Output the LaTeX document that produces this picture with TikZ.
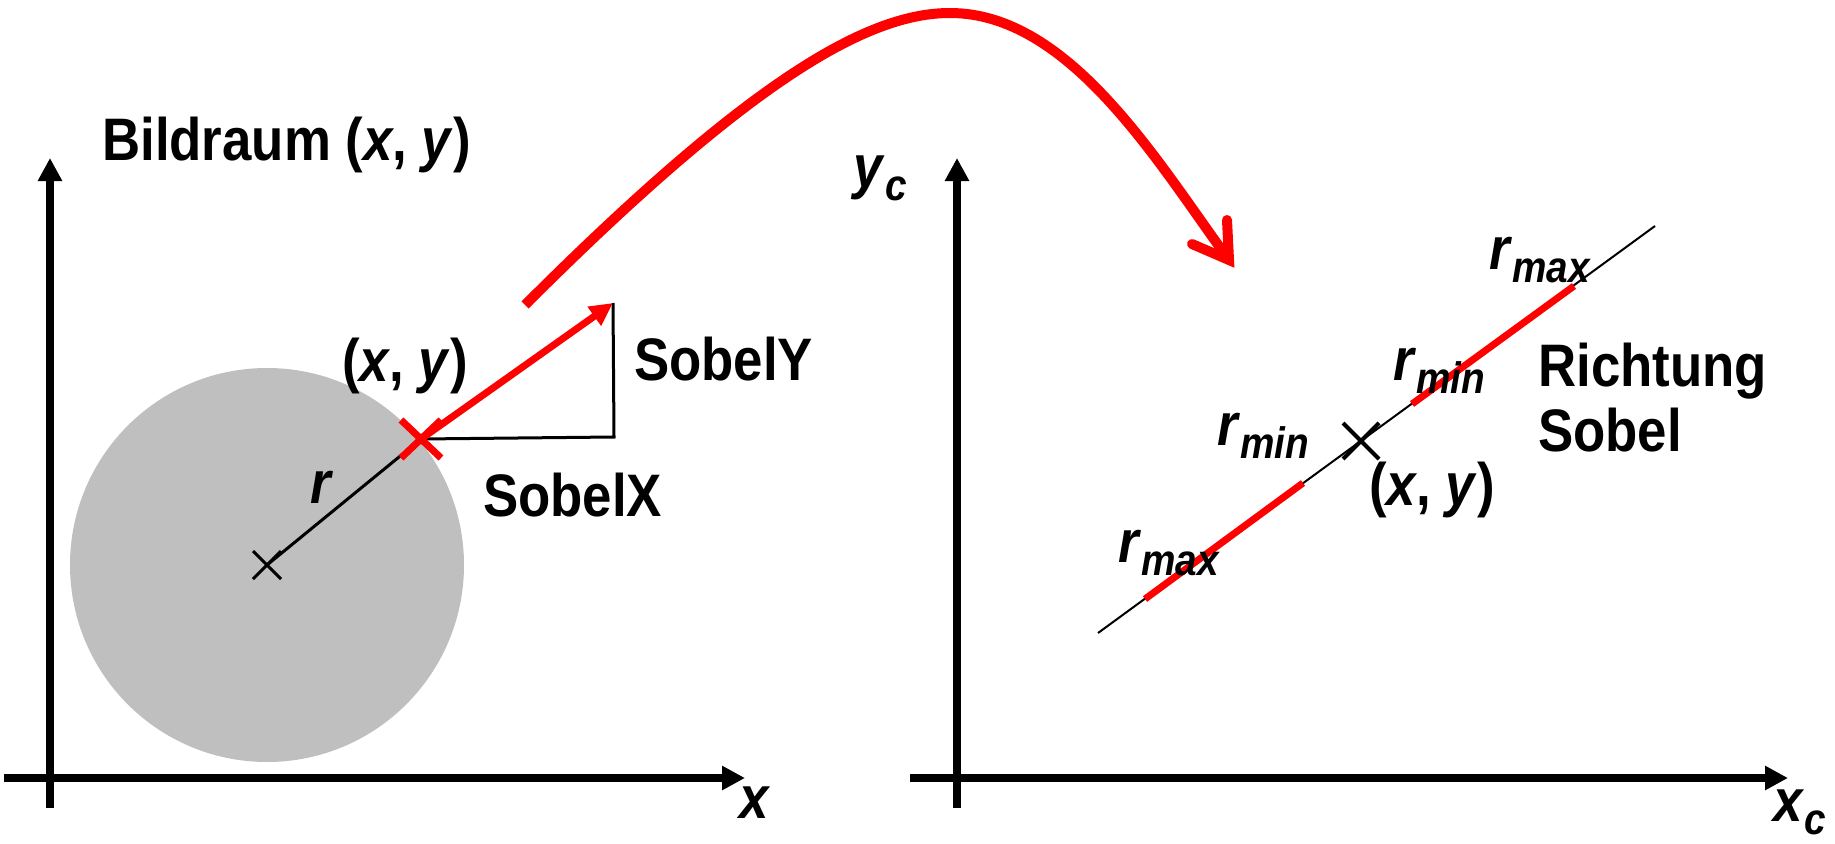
\documentclass[tikz,border=0pt]{standalone}
\usepackage{fontspec}
\setmainfont{Liberation Sans}[FakeStretch=0.88]
\usetikzlibrary{arrows.meta}
\definecolor{cgray}{HTML}{BFBFBF}
\definecolor{cred}{HTML}{FF0000}
\newcommand{\subtxt}[1]{\raisebox{-13pt}{\fontsize{44}{44}\selectfont\textit{#1}}}
\begin{document}
\begin{tikzpicture}[x=1pt,y=-1pt,
  lbl/.style={font=\bfseries\fontsize{60}{66}\selectfont, inner sep=0pt},
  axisline/.style={line width=8pt,-{Triangle[length=23pt,width=23pt]}},
  thinblack/.style={line width=3pt,black},
  hairline/.style={line width=2pt,black},
  redseg/.style={line width=7pt,cred},
  redarrow/.style={line width=7pt,cred,-{Triangle[length=23pt,width=22pt]}},
  bigcurve/.style={line width=10pt,cred,line cap=butt},
  barb/.style={line width=10pt,cred,line cap=round,line join=miter}]
\useasboundingbox (0,0) rectangle (1835,843);

% coordinates
\coordinate (lvb) at (50,808);
\coordinate (lvt) at (50,158);
\coordinate (lhl) at (4,778);
\coordinate (lhr) at (745,778);
\coordinate (rvb) at (957,808);
\coordinate (rvt) at (957,158);
\coordinate (rhl) at (910,778);
\coordinate (rhr) at (1788,778);
\coordinate (ctr) at (267,565);
\coordinate (pxy) at (421,439);
\coordinate (sx) at (614,437);
\coordinate (sy) at (613,303);
\coordinate (cs) at (525,305);
\coordinate (cp) at (950,13);
\coordinate (cv) at (1229,260);
\coordinate (b1) at (1192,244);
\coordinate (b2) at (1227,220);
\coordinate (la) at (1098,633);
\coordinate (lb) at (1655,226);
\coordinate (rc) at (1361,441);
\coordinate (r1a) at (1145,599);
\coordinate (r1b) at (1303,483);
\coordinate (r2a) at (1412,404);
\coordinate (r2b) at (1574,286);

% circle
\fill[cgray] (ctr) circle[radius=197pt];

% axes
\draw[axisline] (lvb) -- (lvt);
\draw[axisline] (lhl) -- (lhr);
\draw[axisline] (rvb) -- (rvt);
\draw[axisline] (rhl) -- (rhr);

% left construction
\draw[thinblack] (ctr) -- (pxy);
\draw[thinblack] (ctr) ++(-14,-14) -- ++(28,28);
\draw[thinblack] (ctr) ++(-14,14) -- ++(28,-28);
\draw[thinblack] (pxy) -- (sx) -- (sy);
\draw[redarrow] (pxy) -- (sy);
\draw[redseg] (pxy) ++(-20,-19) -- ++(40,38);
\draw[redseg] (pxy) ++(-20,19) -- ++(40,-38);

% big curve
\draw[bigcurve] (cs) .. controls (755,75) and (870,13) .. (cp)
                     .. controls (1070,13) and (1158,163) .. (cv);
\draw[barb] (b1) -- (cv) -- (b2);

% right construction
\draw[hairline] (la) -- (lb);
\draw[redseg] (r1a) -- (r1b);
\draw[redseg] (r2a) -- (r2b);
\draw[line width=4pt] (rc) ++(-18,-18) -- ++(36,36);
\draw[line width=4pt] (rc) ++(-18,18) -- ++(36,-36);

% labels
\node[lbl, anchor=base west] (title) at (102,160) {Bildraum (\textit{x}, \textit{y})};
\node[lbl, anchor=base west] (lxy) at (342,381) {(\textit{x}, \textit{y})};
\node[lbl, anchor=base] (lr) at (322,503) {\textit{r}};
\node[lbl, anchor=base west] (lsy) at (634,380) {SobelY};
\node[lbl, anchor=base west] (lsx) at (483,516) {SobelX};
\node[lbl] (lx) at (755,803) {\textit{x}};
\node[lbl] (lyc) at (880,178) {\textit{y}\subtxt{c}};
\node[lbl] (lxc) at (1800,812) {\textit{x}\subtxt{c}};
\node[lbl, anchor=base west] (rmaxu) at (1489,269) {\textit{r}\subtxt{max}};
\node[lbl, anchor=base west] (rminu) at (1393,380) {\textit{r}\subtxt{min}};
\node[lbl, anchor=base west] (rminl) at (1217,445) {\textit{r}\subtxt{min}};
\node[lbl, anchor=base west] (rmaxl) at (1118,562) {\textit{r}\subtxt{max}};
\node[lbl, anchor=base west] (rxy) at (1369,505) {(\textit{x}, \textit{y})};
\node[lbl, anchor=base west] (rich) at (1538,386) {Richtung};
\node[lbl, anchor=base west] (sob) at (1538,451) {Sobel};
\end{tikzpicture}
\end{document}
